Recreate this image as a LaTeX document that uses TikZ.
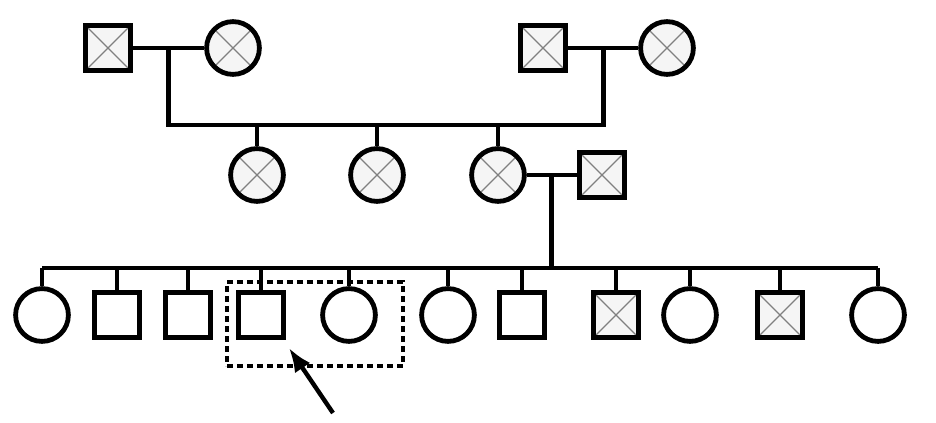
\documentclass[tikz,border=0pt]{standalone}
\usepackage{tikz}
\usetikzlibrary{arrows.meta}
\tikzset{
  circF/.style={ draw, circle, fill=white, inner sep=0pt, minimum size=13.2mm }
}
\tikzset{
  sqM/.style={ draw, fill=white, inner sep=0pt, minimum size=11.4mm }
}
\tikzset{
  crossed/.style={ fill=gray!8, path picture={
      \draw[gray, line width=0.9pt] (path picture bounding box.north west) -- (path picture bounding box.south east)
        (path picture bounding box.north east) -- (path picture bounding box.south west);
    } }
}
\tikzset{
  probox/.style={ draw, dash pattern=on 1.5mm off 1mm, line width=1mm, minimum width=4.4cm, minimum height=2.1cm }
}

\begin{document}
\begin{tikzpicture}[x=0.025cm, y=-0.025cm, line width=1.2mm]
      \useasboundingbox (0,0) rectangle (936,422);

      \coordinate (gen2) at (0,125);
      \coordinate (gen3) at (0,268);

      \node[sqM, crossed] (m1) at (108, 48) {};
      \node[circF, crossed] (f1) at (233, 48) {};
      \node[sqM, crossed] (m2) at (543, 48) {};
      \node[circF, crossed] (f2) at (667, 48) {};

      \node[circF, crossed] (d1) at (257, 175) {};
      \node[circF, crossed] (d2) at (377, 175) {};
      \node[circF, crossed] (d3) at (498, 175) {};
      \node[sqM, crossed] (h3) at (602, 175) {};

      \node[circF] (k1) at (42, 315) {};
      \node[sqM] (k2) at (117, 315) {};
      \node[sqM] (k3) at (188, 315) {};
      \node[sqM] (k4) at (261, 315) {};
      \node[circF] (k5) at (349, 315) {};
      \node[circF] (k6) at (448, 315) {};
      \node[sqM] (k7) at (522, 315) {};
      \node[sqM, crossed] (k8) at (616, 315) {};
      \node[circF] (k9) at (690, 315) {};
      \node[sqM, crossed] (k10) at (780, 315) {};
      \node[circF] (k11) at (878, 315) {};

      \begin{scope}
        \draw (m1) -- coordinate (c1) (f1);
        \draw (m2) -- coordinate (c2) (f2);
        \draw (c1) -- (c1 |- gen2) -- (c2 |- gen2) -- (c2);
        \foreach \d in {d1,d2,d3}
          \draw (\d) -- (\d |- gen2);

        \draw (d3) -- coordinate (c3) (h3);
        \draw (c3) -- (c3 |- gen3);
        \draw (k1 |- gen3) -- (k11 |- gen3);
        \foreach \k in {k1,k2,k3,k4,k5,k6,k7,k8,k9,k10,k11}
          \draw (\k) -- (\k |- gen3);
      \end{scope}

      % proband
      \node[probox] (pbox) at (315, 324) {};
      \coordinate (ptail) at (333, 413);
      \coordinate (ptip) at (289, 348);
      \draw[-{Latex[length=6mm, width=4.6mm]}, line width=1.1mm] (ptail) -- (ptip);
    \end{tikzpicture}
\end{document}
